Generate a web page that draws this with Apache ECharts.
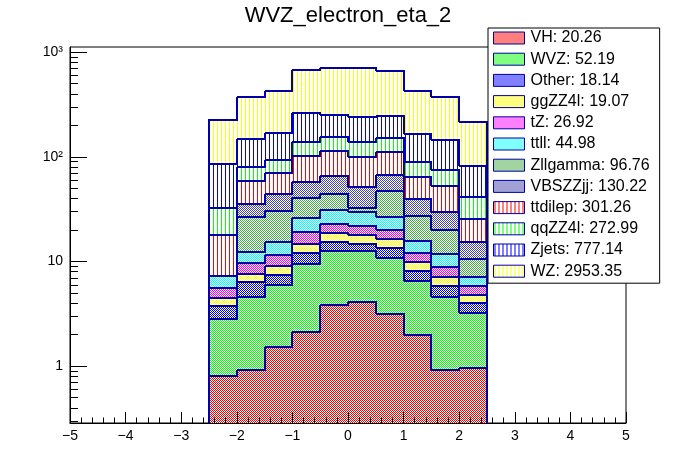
<!DOCTYPE html>
<html>
  <head>
    <meta charset="utf-8" />
    <title>WVZ_electron_eta_2</title>
    <script src="https://cdn.jsdelivr.net/npm/echarts@6/dist/echarts.min.js"></script>
    <style>
      html, body { margin: 0; padding: 0; background: #fff; }
    </style>
  </head>
  <body>
    <div id="main" style="width: 696px; height: 472px"></div>

    <script type="text/javascript">
      // bin edges of the histograms (eta)
      var binEdges = [-2.5, -2, -1.5, -1, -0.5, 0, 0.5, 1, 1.5, 2, 2.5];

      // stack order, bottom -> top (same as legend order)
      var names = ["VH", "WVZ", "Other", "ggZZ4l", "tZ", "ttll", "Zllgamma", "VBSZZjj", "ttdilep", "qqZZ4l", "Zjets", "WZ"];
      var totals = ["20.26", "52.19", "18.14", "19.07", "26.92", "44.98", "96.76", "130.22", "301.26", "272.99", "777.14", "2953.35"];

      var VH = [0.81, 0.92, 1.52, 2.11, 3.83, 4.09, 3.14, 1.99, 0.92, 0.96];
      var WVZ = [2.0, 3.64, 4.42, 7.32, 8.62, 8.51, 7.62, 4.54, 3.64, 2.25];
      var Other = [0.93, 1.79, 1.4, 2.57, 2.85, 2.05, 2.64, 1.61, 1.29, 0.79];
      var ggZZ4l = [0.73, 1.15, 1.68, 2.65, 3.4, 3.05, 2.95, 1.78, 1.23, 0.77];
      var tZ = [1.09, 2.14, 2.48, 4.4, 4.0, 4.1, 3.75, 2.18, 1.75, 0.99];
      var ttll = [1.62, 2.63, 3.8, 6.85, 8.2, 7.8, 6.4, 3.6, 2.97, 1.32];
      var Zllgamma = [0.0, 14.2, 14.7, 14.6, 13.1, 2.9, 20.5, 11.6, 8.1, 3.4];
      var VBSZZjj = [0.1, 8.8, 14.0, 16.8, 21.4, 19.1, 19.8, 12.1, 9.7, 4.8];
      var ttdilep = [10.7, 23.2, 25.8, 43.3, 48.6, 47.7, 44.2, 25.0, 23.2, 10.1];
      var qqZZ4l = [14.3, 21.1, 23.1, 37.4, 40.0, 38.7, 40.0, 24.5, 21.8, 15.8];
      var Zjets = [52.8, 67.9, 75.4, 123, 94, 101, 95, 75.6, 70.4, 40.2];
      var WZ = [139, 223, 252, 412, 455, 464, 412, 260, 226, 135];

      var values = [VH, WVZ, Other, ggZZ4l, tZ, ttll, Zllgamma, VBSZZjj, ttdilep, qqZZ4l, Zjets, WZ];

      // y axis decorations (log ticks like ROOT)
      var yMajorTicks = [1, 10, 100, 1000];
      var yMinorTicks = [0.3, 0.4, 0.5, 0.6, 0.7, 0.8, 0.9,
                         2, 3, 4, 5, 6, 7, 8, 9,
                         20, 30, 40, 50, 60, 70, 80, 90,
                         200, 300, 400, 500, 600, 700, 800, 900];

      var Y_MIN = 0.285, Y_MAX = 1116;
      var X_MIN = -5, X_MAX = 5;
      var OUTLINE = "#0000aa";
      var FONT = "Liberation Sans, Arial, Helvetica, sans-serif";

      // ROOT-like fill patterns
      function checker(color) {
        var c = document.createElement("canvas");
        c.width = 2; c.height = 2;
        var g = c.getContext("2d");
        g.fillStyle = "#fff"; g.fillRect(0, 0, 2, 2);
        g.fillStyle = color; g.fillRect(0, 0, 1, 1); g.fillRect(1, 1, 1, 1);
        return { image: c, repeat: "repeat" };
      }
      function vlines(color) {
        var c = document.createElement("canvas");
        c.width = 4; c.height = 4;
        var g = c.getContext("2d");
        g.fillStyle = "#fff"; g.fillRect(0, 0, 4, 4);
        g.fillStyle = color; g.fillRect(1, 0, 1, 4);
        return { image: c, repeat: "repeat" };
      }
      var patterns = [
        checker("#ff0000"), checker("#00ff00"), checker("#0000ff"), checker("#ffff00"),
        checker("#ff00ff"), checker("#00ffff"), checker("#44aa44"), checker("#4444aa"),
        vlines("#ff0000"), vlines("#00ff00"), vlines("#0000ff"), vlines("#ffff00"),
      ];

      // cumulative stack
      var cum = [];
      values.forEach(function (arr, k) {
        cum.push(arr.map(function (v, b) { return v + (k > 0 ? cum[k - 1][b] : 0); }));
      });

      var nBins = binEdges.length - 1;
      var series = [];
      var snap = Math.round;

      // draw top of stack first, like THStack
      for (var k = names.length - 1; k >= 0; k--) {
        (function (k) {
          var data = [];
          for (var b = 0; b < nBins; b++) {
            var lo = k > 0 ? cum[k - 1][b] : 0;
            var next = b < nBins - 1 ? cum[k][b + 1] : Y_MIN;
            data.push([binEdges[b], binEdges[b + 1], Math.max(lo, Y_MIN), cum[k][b], Math.max(next, Y_MIN)]);
          }
          series.push({
            type: "custom",
            name: names[k] + ": " + totals[k],
            coordinateSystem: "cartesian2d",
            itemStyle: { color: patterns[k], borderColor: OUTLINE, borderWidth: 1 },
            encode: { x: [0, 1], y: [2, 3] },
            silent: true,
            data: data,
            renderItem: function (params, api) {
              var x0 = api.value(0), x1 = api.value(1);
              var lo = api.value(2), hi = api.value(3), nx = api.value(4);
              var tl = api.coord([x0, hi]);
              var br = api.coord([x1, lo]);
              var pn = api.coord([x1, nx]);
              var L = snap(tl[0]), R = snap(br[0]), T = snap(tl[1]), B = snap(br[1]), N = snap(pn[1]);
              var pts = [];
              if (params.dataIndex === 0) {
                pts.push([L, snap(api.coord([x0, Y_MIN])[1])]);
              }
              pts.push([L, T], [R, T], [R, N]);
              return {
                type: "group",
                children: [
                  {
                    type: "rect",
                    z2: 0,
                    shape: { x: L, y: T, width: R - L, height: B - T },
                    style: { fill: patterns[k] },
                  },
                  {
                    type: "polyline",
                    z2: 10,
                    shape: { points: pts },
                    style: { stroke: OUTLINE, lineWidth: 2, fill: null, lineJoin: "miter" },
                  },
                ],
              };
            },
          });
        })(k);
      }

      function tickSeries(ticks, len) {
        return {
          type: "custom",
          coordinateSystem: "cartesian2d",
          silent: true,
          z: 5,
          encode: { x: 0, y: 1 },
          data: ticks.map(function (v) { return [X_MIN, v]; }),
          renderItem: function (params, api) {
            var p = api.coord([api.value(0), api.value(1)]);
            var y = Math.round(p[1]) + 0.5;
            return {
              type: "line",
              shape: { x1: p[0], y1: y, x2: p[0] + len, y2: y },
              style: { stroke: "#000", lineWidth: 1 },
            };
          },
        };
      }
      series.push(tickSeries(yMajorTicks, 17));
      series.push(tickSeries(yMinorTicks, 8));

      var sup = { 2: "\u00b2", 3: "\u00b3" };

      var myChart = echarts.init(document.getElementById("main"), null, { renderer: "canvas" });
      var option = {
        animation: false,
        backgroundColor: "#fff",
        title: {
          text: "WVZ_electron_eta_2",
          left: "center",
          top: 5,
          padding: 0,
          textStyle: { fontFamily: FONT, fontSize: 22, fontWeight: "normal", color: "#000" },
        },
        legend: {
          orient: "vertical",
          left: 488,
          top: 28,
          padding: [2, 10, 4, 5],
          itemWidth: 31,
          itemHeight: 12,
          itemGap: 5.2,
          icon: "rect",
          backgroundColor: "#fff",
          borderColor: "#000",
          borderWidth: 1,
          selectedMode: false,
          itemStyle: { borderColor: OUTLINE, borderWidth: 1 },
          textStyle: { fontFamily: FONT, fontSize: 16, color: "#000", padding: [0, 0, 0, 1] },
          data: names.map(function (n, i) { return n + ": " + totals[i]; }),
        },
        grid: {
          left: 70,
          right: 70,
          top: 47,
          bottom: 49,
          show: true,
          borderColor: "#000",
          borderWidth: 1,
          backgroundColor: "#fff",
        },
        xAxis: {
          type: "value",
          min: X_MIN,
          max: X_MAX,
          interval: 1,
          z: 10,
          axisLine: { onZero: false, lineStyle: { color: "#000", width: 1 } },
          axisTick: { inside: true, length: 11, lineStyle: { color: "#000" } },
          minorTick: { show: true, splitNumber: 5, length: 5.5, lineStyle: { color: "#000" } },
          splitLine: { show: false },
          axisLabel: {
            margin: 6,
            fontFamily: FONT,
            fontSize: 14,
            color: "#000",
            formatter: function (v) { return String(v).replace("-", "\u2212"); },
          },
        },
        yAxis: {
          type: "log",
          logBase: 10,
          min: Y_MIN,
          max: Y_MAX,
          z: 10,
          axisLine: { show: true, onZero: false, lineStyle: { color: "#000", width: 1 } },
          axisTick: { show: false },
          minorTick: { show: false },
          splitLine: { show: false },
          axisLabel: {
            margin: 7,
            fontFamily: FONT,
            fontSize: 14,
            color: "#000",
            showMinLabel: false,
            showMaxLabel: false,
            formatter: function (v) {
              var e = Math.log10(v);
              var r = Math.round(e);
              if (Math.abs(e - r) > 1e-6) return "";
              if (r === 0) return "1";
              if (r === 1) return "10";
              return "10" + (sup[r] || "^" + r);
            },
          },
        },
        series: series,
      };
      myChart.setOption(option);
    </script>
  </body>
</html>
